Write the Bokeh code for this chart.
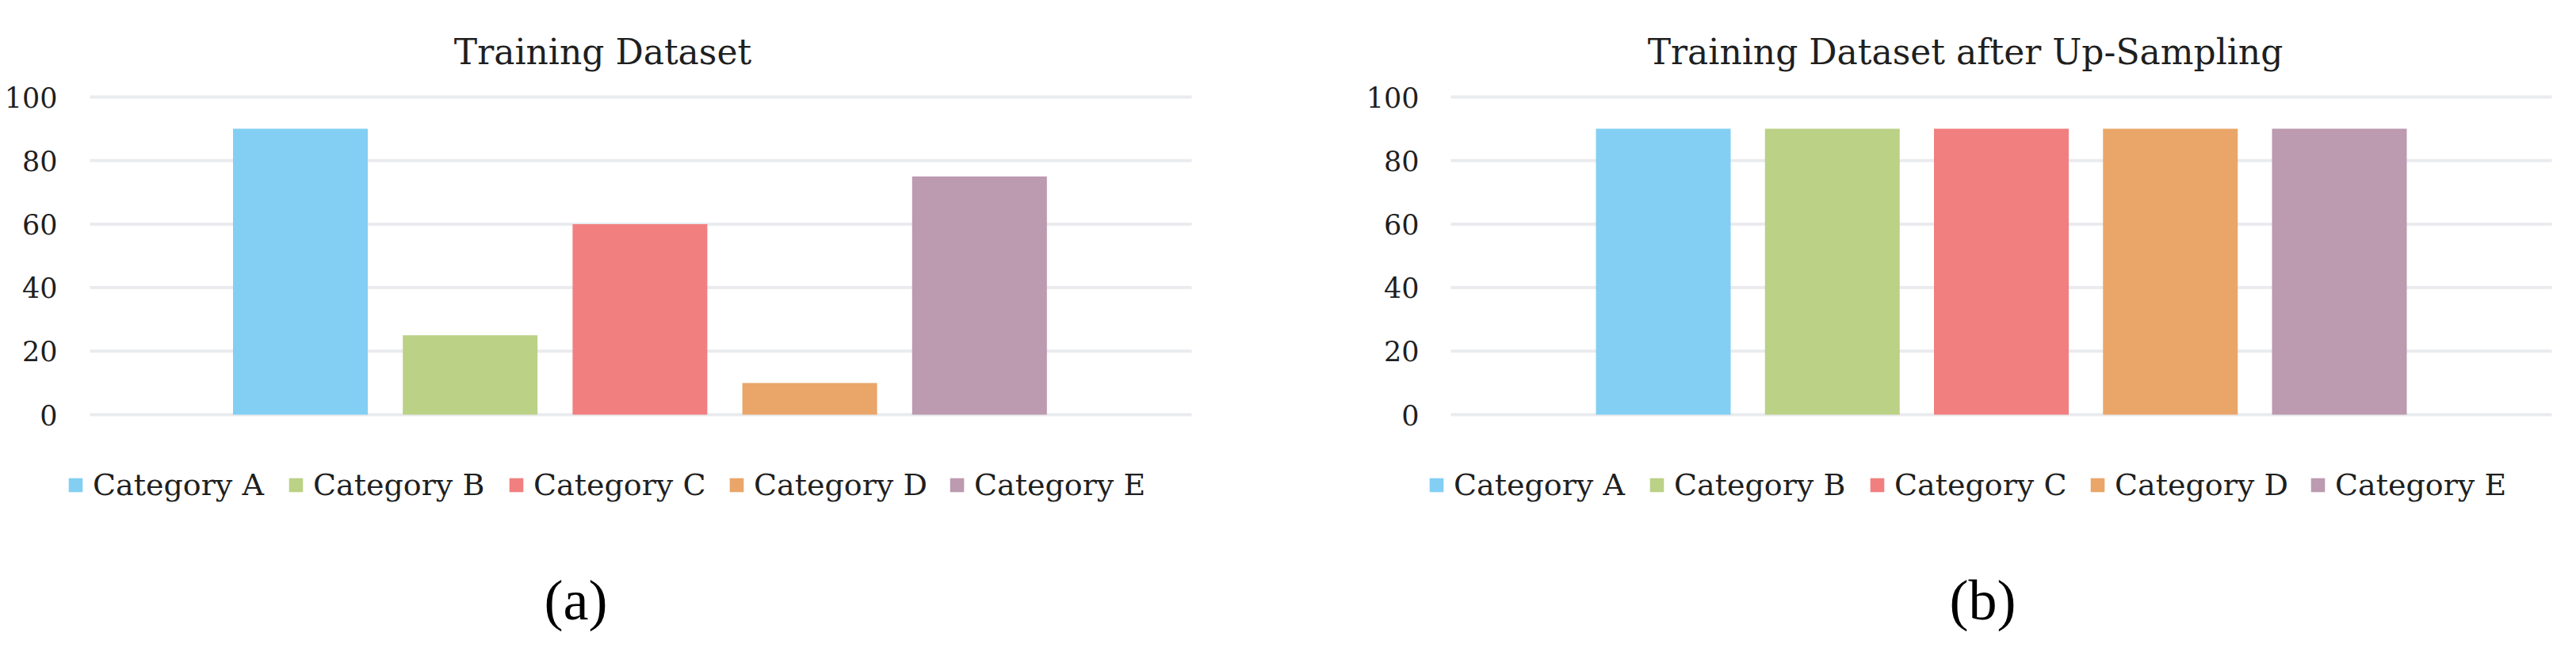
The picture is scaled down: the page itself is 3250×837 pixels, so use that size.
from bokeh.plotting import figure
from bokeh.models import Range1d, FixedTicker, Legend, LegendItem, Label
from bokeh.layouts import row
from bokeh.embed import file_html
from bokeh.resources import INLINE

# ---- data ----
categories = ["Category A", "Category B", "Category C", "Category D", "Category E"]
colors = ["#82CFF3", "#BBD186", "#F17F7F", "#E9A668", "#BC9AAF"]
values_before = [90, 25, 60, 10, 75]
values_after = [90, 90, 90, 90, 90]
y_ticks = [0, 20, 40, 60, 80, 100]
titles = ["Training Dataset", "Training Dataset after Up-Sampling"]
captions = ["(a)", "(b)"]

SLAB = "DejaVu Serif"
TEXT = "#1f1f1f"
FIG_W, FIG_H = 1617, 821
PX_PER_UNIT_Y = 4.01          # pixels per value unit
ZERO_Y = 523                  # pixel row (from figure top) of value 0


def make_panel(values, title, caption, frame_left, bar0_px, pitch, grid_l, grid_r,
               title_x, cap_x, leg_x):
    # x: category index -> pixels; y: value -> pixels (frame fills the canvas right/top/bottom)
    fw = FIG_W - frame_left
    x_start = (frame_left - bar0_px) / pitch
    x_end = x_start + fw / pitch
    y_start = -(FIG_H - ZERO_Y) / PX_PER_UNIT_Y
    y_end = ZERO_Y / PX_PER_UNIT_Y
    p = figure(width=FIG_W, height=FIG_H, output_backend="svg", toolbar_location=None,
               title=None, x_range=Range1d(x_start, x_end), y_range=Range1d(y_start, y_end),
               x_axis_location=None, min_border=0, min_border_left=frame_left)
    p.outline_line_color = None
    p.background_fill_color = "white"
    p.border_fill_color = "white"
    p.xgrid.visible = False
    p.ygrid.visible = False
    p.yaxis.ticker = FixedTicker(ticks=y_ticks)
    p.yaxis.axis_line_color = None
    p.yaxis.major_tick_line_color = None
    p.yaxis.minor_tick_line_color = None
    p.yaxis.major_tick_out = 0
    p.yaxis.major_tick_in = 0
    p.yaxis.major_label_standoff = 4
    p.yaxis.major_label_text_font = SLAB
    p.yaxis.major_label_text_font_size = "35px"
    p.yaxis.major_label_text_color = TEXT

    # horizontal gridlines at the tick values, spanning the plot area only
    gl = (grid_l - bar0_px) / pitch
    gr = (grid_r - bar0_px) / pitch
    p.segment(x0=[gl] * len(y_ticks), x1=[gr] * len(y_ticks), y0=y_ticks, y1=y_ticks,
              line_color="#E9EBEF", line_width=4)

    items = []
    for i, c in enumerate(categories):
        r = p.vbar(x=[i], top=[values[i]], bottom=0, width=170 / pitch,
                   fill_color=colors[i], line_color=colors[i], line_width=0)
        items.append(LegendItem(label=c, renderers=[r]))

    legend = Legend(items=items, orientation="horizontal", location=(leg_x, 187),
                    glyph_width=22, glyph_height=22, label_height=22,
                    label_standoff=11, label_width=221, spacing=24,
                    padding=0, margin=0, border_line_alpha=0,
                    background_fill_alpha=0,
                    label_text_font=SLAB, label_text_font_size="38px",
                    label_text_color=TEXT)
    p.add_layout(legend, "center")

    p.add_layout(Label(x=title_x, y=FIG_H - 65, x_units="screen", y_units="screen",
                       text=title, text_align="center", text_baseline="alphabetic",
                       text_font=SLAB, text_font_size="44px", text_color=TEXT))
    p.add_layout(Label(x=cap_x, y=FIG_H - 757, x_units="screen", y_units="screen",
                       text=caption, text_align="center", text_baseline="middle",
                       text_font="Liberation Serif", text_font_size="72px",
                       text_color="black"))
    return p


# positions are in figure pixels (reference pixels minus the figure's left edge)
p1 = make_panel(values_before, titles[0], captions[0], frame_left=76, bar0_px=378.5,
                pitch=214.2, grid_l=113, grid_r=1503, title_x=684, cap_x=650, leg_x=8)
p2 = make_panel(values_after, titles[1], captions[1], frame_left=177, bar0_px=481,
                pitch=213.25, grid_l=213, grid_r=1602, title_x=685, cap_x=707, leg_x=7)

layout = row(p1, p2)
open("out.html", "w").write(file_html(layout, INLINE))
